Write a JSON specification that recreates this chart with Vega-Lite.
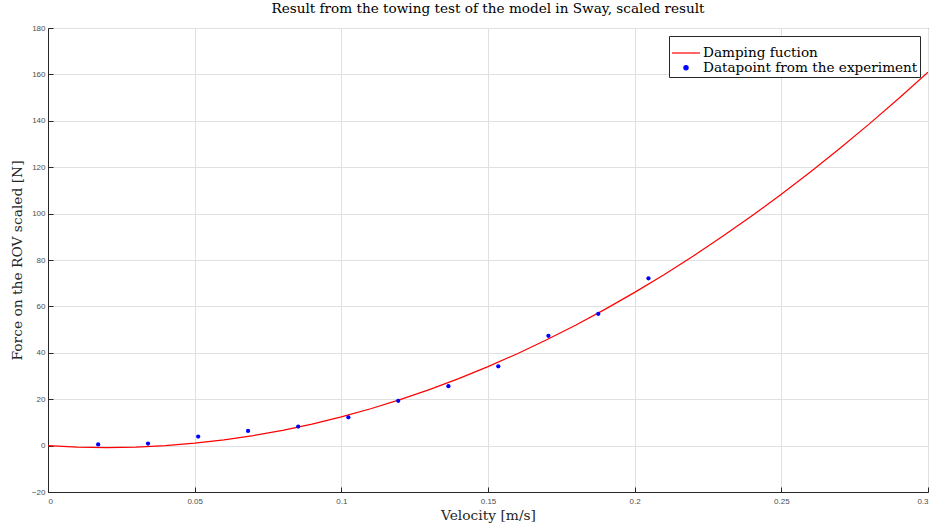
{
  "$schema": "https://vega.github.io/schema/vega-lite/v6.json",
  "autosize": {"type": "none"},
  "width": 880,
  "height": 464,
  "padding": {"left": 48, "top": 28, "right": 3, "bottom": 35},
  "background": "white",
  "title": {"text": "Result from the towing test of the model in Sway, scaled result", "font": "DejaVu Serif", "fontSize": 13.6, "fontWeight": "normal", "color": "#000000", "offset": 8, "anchor": "middle"},
  "config": {
    "view": {"stroke": "#262626", "strokeWidth": 1},
    "axis": {
      "labelFont": "Liberation Sans", "labelFontSize": 8, "labelColor": "#4d4d4d",
      "titleFont": "DejaVu Serif", "titleFontSize": 13.8, "titleFontWeight": "normal", "titleColor": "#262626",
      "gridColor": "#e0e0e0", "gridWidth": 1, "domainColor": "#262626", "tickColor": "#262626",
      "tickSize": -5
    },
    "legend": {"labelFont": "DejaVu Serif", "labelFontSize": 13.6, "labelColor": "#000000", "labelLimit": 0, "strokeColor": "#262626", "fillColor": "white", "padding": 2, "rowPadding": 0, "symbolStrokeWidth": 1.2, "labelOffset": 2}
  },
  "datasets": {
    "curve": [
      {"v": 0, "f": 0}, {"v": 0.01, "f": -0.62}, {"v": 0.02, "f": -0.83}, {"v": 0.03, "f": -0.62},
      {"v": 0.04, "f": 0.0}, {"v": 0.05, "f": 1.03}, {"v": 0.06, "f": 2.47}, {"v": 0.07, "f": 4.33},
      {"v": 0.08, "f": 6.6}, {"v": 0.09, "f": 9.29}, {"v": 0.1, "f": 12.38}, {"v": 0.11, "f": 15.89},
      {"v": 0.12, "f": 19.81}, {"v": 0.13, "f": 24.14}, {"v": 0.14, "f": 28.89}, {"v": 0.15, "f": 34.05},
      {"v": 0.16, "f": 39.62}, {"v": 0.17, "f": 45.61}, {"v": 0.18, "f": 52.0}, {"v": 0.19, "f": 58.82},
      {"v": 0.2, "f": 66.04}, {"v": 0.21, "f": 73.67}, {"v": 0.22, "f": 81.73}, {"v": 0.23, "f": 90.19},
      {"v": 0.24, "f": 99.07}, {"v": 0.25, "f": 108.35}, {"v": 0.26, "f": 118.05}, {"v": 0.27, "f": 128.17},
      {"v": 0.28, "f": 138.69}, {"v": 0.29, "f": 149.63}, {"v": 0.3, "f": 160.98}
    ],
    "points": [
      {"v": 0.0171, "f": 0.5}, {"v": 0.0341, "f": 0.9}, {"v": 0.0512, "f": 3.9},
      {"v": 0.0682, "f": 6.3}, {"v": 0.0853, "f": 8.2}, {"v": 0.1024, "f": 12.2},
      {"v": 0.1194, "f": 19.3}, {"v": 0.1365, "f": 25.6}, {"v": 0.1535, "f": 34.2},
      {"v": 0.1706, "f": 47.3}, {"v": 0.1876, "f": 56.8}, {"v": 0.2047, "f": 72.1}
    ]
  },
  "layer": [
    {
      "data": {"name": "curve"},
      "transform": [{"calculate": "'Damping fuction'", "as": "series"}],
      "mark": {"type": "line", "strokeWidth": 1.2, "clip": true},
      "encoding": {
        "x": {"field": "v", "type": "quantitative", "scale": {"domain": [0, 0.3], "nice": false}, "axis": {"title": "Velocity [m/s]", "values": [0, 0.05, 0.1, 0.15, 0.2, 0.25, 0.3], "format": "~g", "titlePadding": 3, "labelPadding": 10}},
        "y": {"field": "f", "type": "quantitative", "scale": {"domain": [-20, 180], "nice": false}, "axis": {"title": "Force on the ROV scaled [N]", "values": [-20, 0, 20, 40, 60, 80, 100, 120, 140, 160, 180], "titlePadding": 7, "labelPadding": 8}},
        "color": {"field": "series", "type": "nominal", "scale": {"domain": ["Damping fuction", "Datapoint from the experiment"], "range": ["#ff0000", "#0000ff"]}, "legend": {"title": null, "orient": "top-right", "offset": 8}}
      }
    },
    {
      "data": {"name": "points"},
      "transform": [{"calculate": "'Datapoint from the experiment'", "as": "series"}],
      "mark": {"type": "point", "filled": true, "opacity": 1},
      "encoding": {
        "x": {"field": "v", "type": "quantitative"},
        "y": {"field": "f", "type": "quantitative"},
        "color": {"field": "series", "type": "nominal"},
        "shape": {"field": "series", "type": "nominal", "scale": {"domain": ["Damping fuction", "Datapoint from the experiment"], "range": ["stroke", "circle"]}, "legend": {"title": null, "orient": "top-right", "offset": 8}},
        "size": {"field": "series", "type": "nominal", "scale": {"domain": ["Damping fuction", "Datapoint from the experiment"], "range": [784, 18]}, "legend": {"title": null, "orient": "top-right", "offset": 8}}
      }
    }
  ]
}
